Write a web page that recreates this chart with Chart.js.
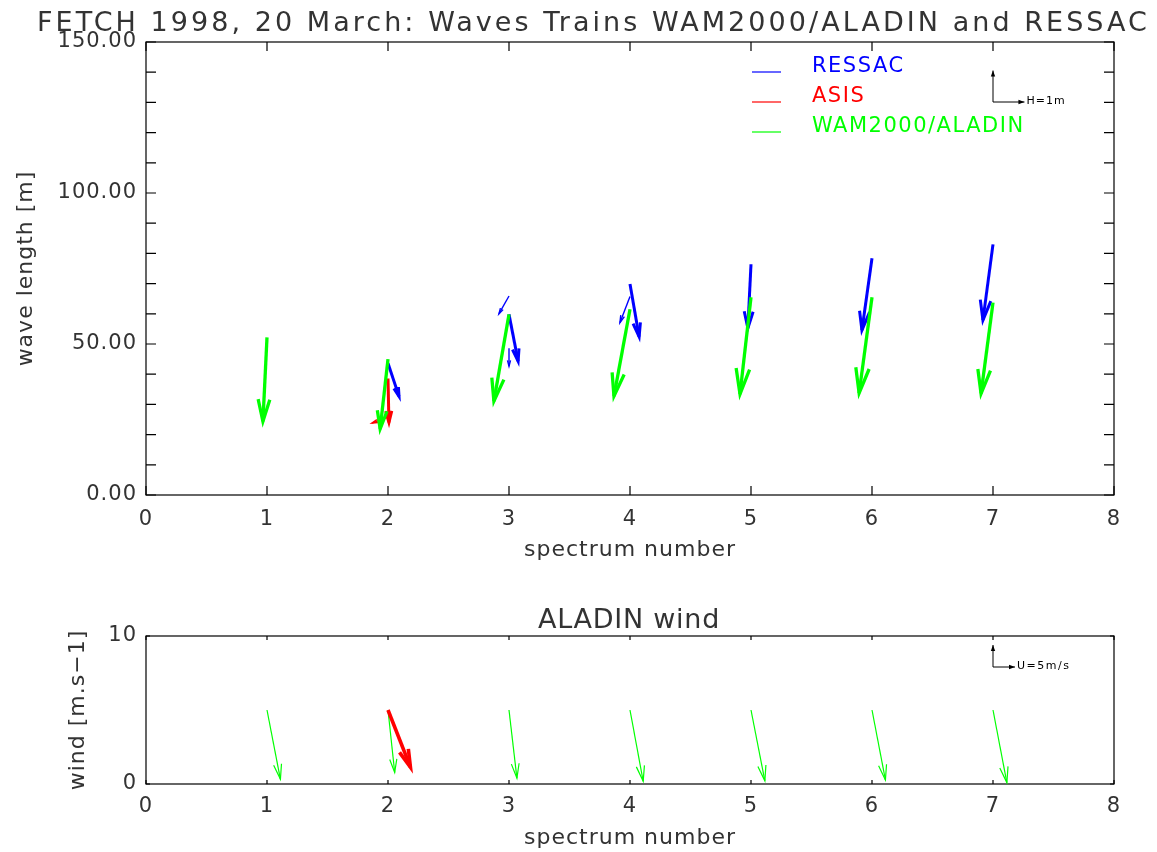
<!DOCTYPE html>
<html lang="en">
<head>
<meta charset="UTF-8">
<title>FETCH 1998 wave trains</title>
<script src="https://cdn.jsdelivr.net/npm/chart.js"></script>
<style>
  body { margin: 0; background: #fff; }
  canvas { display: block; }
</style>
</head>
<body>
<canvas id="waveChart" width="1157" height="580"></canvas>
<canvas id="windChart" width="1157" height="272"></canvas>
<script>
// ---- data ----
// WAM2000/ALADIN wave trains: spectrum number, wave length [m], height vector [m] (east, north)
const wamSpectrum = [1, 2, 3, 4, 5, 6, 7];
const wamLength   = [52.2, 45.0, 59.8, 61.5, 65.5, 65.5, 63.7];
const wamHx       = [-0.13, -0.25, -0.48, -0.51, -0.35, -0.41, -0.38];
const wamHy       = [-2.67, -2.22, -2.76, -2.76, -3.08, -3.05, -2.89];

// RESSAC wave trains
const ressacSpectrum = [2, 3, 3, 3, 4, 4, 5, 6, 7];
const ressacLength   = [43.6, 59.8, 65.9, 48.6, 69.9, 65.7, 76.4, 78.4, 83.0];
const ressacHx       = [0.35, 0.29, -0.32, 0.0, 0.29, -0.32, -0.10, -0.32, -0.32];
const ressacHy       = [-1.05, -1.49, -0.57, -0.57, -1.68, -0.83, -2.03, -2.29, -2.41];

// ASIS wave trains
const asisSpectrum = [2, 2];
const asisLength   = [38.6, 25.8];
const asisHx       = [0.03, -0.51];
const asisHy       = [-1.40, -0.19];

// ALADIN wind [m/s], arrows start at 5 on the wind axis
const windSpectrum = [1, 2, 3, 4, 5, 6, 7];
const windBase     = [5, 5, 5, 5, 5, 5, 5];
const aladinU      = [3.05, 1.52, 1.8, 3.0, 3.15, 3.05, 3.15];
const aladinV      = [-15.75, -14.2, -15.5, -16.2, -16.1, -15.9, -16.5];

// ASIS wind
const asisWindSpectrum = [2];
const asisWindBase     = [5];
const asisU            = [5.1];
const asisV            = [-13.0];

// ---- drawing ----
const FONT = "'DejaVu Sans', sans-serif";
const TEXT = '#333';
const BLUE = '#0000ff', RED = '#ff0000', GREEN = '#00ff00';

function arrow(ctx, x0, y0, x1, y1, width, color, headFrac) {
  const dx = x1 - x0, dy = y1 - y0;
  const len = Math.hypot(dx, dy);
  if (len < 0.5) return;
  const ang = Math.atan2(dy, dx);
  const head = Math.max(len * headFrac, 6);
  const spread = 0.26;
  ctx.strokeStyle = color;
  ctx.lineWidth = width;
  ctx.lineCap = 'butt';
  ctx.lineJoin = 'miter';
  ctx.beginPath();
  ctx.moveTo(x0, y0);
  ctx.lineTo(x1, y1);
  ctx.stroke();
  ctx.beginPath();
  ctx.moveTo(x1 - head * Math.cos(ang - spread), y1 - head * Math.sin(ang - spread));
  ctx.lineTo(x1, y1);
  ctx.lineTo(x1 - head * Math.cos(ang + spread), y1 - head * Math.sin(ang + spread));
  ctx.stroke();
}

function tinyHead(ctx, x, y, dirX, dirY) {
  ctx.beginPath();
  ctx.moveTo(x, y);
  ctx.lineTo(x - dirX * 6 - dirY * 2.2, y - dirY * 6 + dirX * 2.2);
  ctx.lineTo(x - dirX * 6 + dirY * 2.2, y - dirY * 6 - dirX * 2.2);
  ctx.closePath();
  ctx.fill();
}

function spacedText(ctx, text, left, baseline, width, size, color) {
  ctx.save();
  ctx.font = size + 'px ' + FONT;
  ctx.letterSpacing = '0px';
  const natural = ctx.measureText(text).width;
  ctx.letterSpacing = ((width - natural) / text.length) + 'px';
  ctx.fillStyle = color;
  ctx.textAlign = 'left';
  ctx.textBaseline = 'alphabetic';
  ctx.fillText(text, left, baseline);
  ctx.restore();
}

function makeOverlay(cfg) {
  return {
    id: 'overlay',
    beforeDraw(chart) { chart.ctx.letterSpacing = '1px'; },
    afterDatasetsDraw(chart) {
      const {ctx, chartArea: a, scales: {x, y}} = chart;
      const unit = x.getPixelForValue(1) - x.getPixelForValue(0);
      ctx.save();
      // frame and inward ticks
      ctx.strokeStyle = '#000';
      ctx.lineWidth = 1.2;
      ctx.strokeRect(a.left, a.top, a.width, a.height);
      ctx.beginPath();
      for (let v = x.min; v <= x.max; v += 1) {
        const px = x.getPixelForValue(v);
        ctx.moveTo(px, a.bottom); ctx.lineTo(px, a.bottom - cfg.xTick);
        ctx.moveTo(px, a.top); ctx.lineTo(px, a.top + cfg.xTick);
      }
      for (let v = y.min; v <= y.max; v += cfg.yMinor) {
        const py = y.getPixelForValue(v);
        ctx.moveTo(a.left, py); ctx.lineTo(a.left + cfg.yTick, py);
        ctx.moveTo(a.right, py); ctx.lineTo(a.right - cfg.yTick, py);
      }
      ctx.stroke();

      // quiver arrows from each dataset point
      const s = cfg.unitsPerValue * unit;
      chart.data.datasets.forEach(ds => {
        ds.data.forEach((p, i) => {
          const px = x.getPixelForValue(p.x), py = y.getPixelForValue(p.y);
          const u = ds.u[i], v = ds.v[i];
          const w = Math.hypot(u, v) < (ds.thinBelow || 0) ? ds.thinWidth : ds.arrowWidth;
          arrow(ctx, px, py, px + u * s, py - v * s, w, ds.borderColor, ds.headFrac);
        });
      });

      // legend
      ctx.letterSpacing = '1.5px';
      ctx.font = '21px ' + FONT;
      ctx.textBaseline = 'alphabetic';
      (cfg.legend || []).forEach((item, i) => {
        const ly = a.top + 30 + i * 30;
        ctx.strokeStyle = item.color;
        ctx.lineWidth = 1.2;
        ctx.beginPath();
        ctx.moveTo(a.left + 606, ly); ctx.lineTo(a.left + 635, ly);
        ctx.stroke();
        ctx.fillStyle = item.color;
        ctx.fillText(item.text, a.left + 666, ly);
      });

      // key arrows (scale reference)
      const kx = x.getPixelForValue(cfg.keyAt);
      const ky = a.top + cfg.keyTop;
      const kl = cfg.keyValue * s;
      ctx.strokeStyle = '#000';
      ctx.fillStyle = '#000';
      ctx.lineWidth = 1;
      ctx.beginPath();
      ctx.moveTo(kx, ky - kl); ctx.lineTo(kx, ky); ctx.lineTo(kx + kl, ky);
      ctx.stroke();
      tinyHead(ctx, kx, ky - kl, 0, -1);
      tinyHead(ctx, kx + kl, ky, 1, 0);
      ctx.letterSpacing = cfg.keySpacing;
      ctx.font = '11px ' + FONT;
      ctx.fillText(cfg.keyLabel, kx + kl + 2, ky + 2);
      ctx.restore();
    },
    afterDraw(chart) {
      chart.ctx.letterSpacing = '0px';
      spacedText(chart.ctx, cfg.title, cfg.titleLeft, cfg.titleBase, cfg.titleWidth, 27, TEXT);
    }
  };
}

function pts(xs, ys) { return xs.map((v, i) => ({x: v, y: ys[i]})); }

function axes(cfg) {
  return {
    x: {
      type: 'linear', min: 0, max: 8,
      ticks: {stepSize: 1, padding: cfg.xPad, color: TEXT, font: {family: FONT, size: 21}},
      grid: {display: false, drawTicks: false},
      border: {display: false},
      title: {display: true, text: 'spectrum number', color: TEXT,
              font: {family: FONT, size: 22}, padding: {top: cfg.xTitlePad, bottom: cfg.xTitlePad}},
      afterFit: sc => { sc.height = cfg.xHeight; }
    },
    y: {
      min: cfg.yMin, max: cfg.yMax,
      ticks: {stepSize: cfg.yStep, padding: 9, color: TEXT, font: {family: FONT, size: 21},
              callback: cfg.yFormat},
      grid: {display: false, drawTicks: false},
      border: {display: false},
      title: {display: true, text: cfg.yTitle, color: TEXT,
              font: {family: FONT, size: 22}, padding: {top: cfg.yTitlePad, bottom: cfg.yTitlePad}},
      afterFit: sc => { sc.width = 146; }
    }
  };
}

const waveDatasets = [
  {label: 'RESSAC', data: pts(ressacSpectrum, ressacLength), u: ressacHx, v: ressacHy,
   borderColor: BLUE, arrowWidth: 3, thinWidth: 1.4, thinBelow: 1, headFrac: 0.27, pointRadius: 0},
  {label: 'ASIS', data: pts(asisSpectrum, asisLength), u: asisHx, v: asisHy,
   borderColor: RED, arrowWidth: 3, thinWidth: 1.4, thinBelow: 1, headFrac: 0.27, pointRadius: 0},
  {label: 'WAM2000/ALADIN', data: pts(wamSpectrum, wamLength), u: wamHx, v: wamHy,
   borderColor: GREEN, arrowWidth: 3.3, thinWidth: 1.4, thinBelow: 1, headFrac: 0.27, pointRadius: 0}
];

new Chart(document.getElementById('waveChart'), {
  type: 'scatter',
  data: {datasets: waveDatasets},
  options: {
    responsive: false, animation: false,
    layout: {padding: {top: 42, right: 43, left: 0, bottom: 0}},
    plugins: {legend: {display: false}, tooltip: {enabled: false}},
    scales: axes({xPad: 12, xTitlePad: 17, xHeight: 85, yMin: 0, yMax: 150, yStep: 50,
                  yFormat: v => v.toFixed(2), yTitle: 'wave length [m]', yTitlePad: 13})
  },
  plugins: [makeOverlay({
    xTick: 9, yTick: 10, yMinor: 10, unitsPerValue: 0.26,
    legend: [{text: 'RESSAC', color: BLUE}, {text: 'ASIS', color: RED}, {text: 'WAM2000/ALADIN', color: GREEN}],
    keyAt: 7, keyTop: 60, keyValue: 1, keyLabel: 'H=1m', keySpacing: '1px',
    title: 'FETCH 1998, 20 March: Waves Trains WAM2000/ALADIN and RESSAC',
    titleLeft: 37, titleBase: 31, titleWidth: 1113
  })]
});

new Chart(document.getElementById('windChart'), {
  type: 'scatter',
  data: {datasets: [
    {label: 'ALADIN', data: pts(windSpectrum, windBase), u: aladinU, v: aladinV,
     borderColor: GREEN, arrowWidth: 1.2, headFrac: 0.22, pointRadius: 0},
    {label: 'ASIS', data: pts(asisWindSpectrum, asisWindBase), u: asisU, v: asisV,
     borderColor: RED, arrowWidth: 3.6, headFrac: 0.3, pointRadius: 0}
  ]},
  options: {
    responsive: false, animation: false,
    layout: {padding: {top: 56, right: 43, left: 0, bottom: 0}},
    plugins: {legend: {display: false}, tooltip: {enabled: false}},
    scales: axes({xPad: 10, xTitlePad: 1, xHeight: 68, yMin: 0, yMax: 10, yStep: 10,
                  yFormat: v => String(v), yTitle: 'wind [m.s\u22121]', yTitlePad: 65})
  },
  plugins: [makeOverlay({
    xTick: 4, yTick: 4, yMinor: 10, unitsPerValue: 0.2 / 5.5,
    legend: [],
    keyAt: 7, keyTop: 31, keyValue: 5, keyLabel: 'U=5m/s', keySpacing: '1.5px',
    title: 'ALADIN wind',
    titleLeft: 538, titleBase: 48, titleWidth: 182
  })]
});
</script>
</body>
</html>
